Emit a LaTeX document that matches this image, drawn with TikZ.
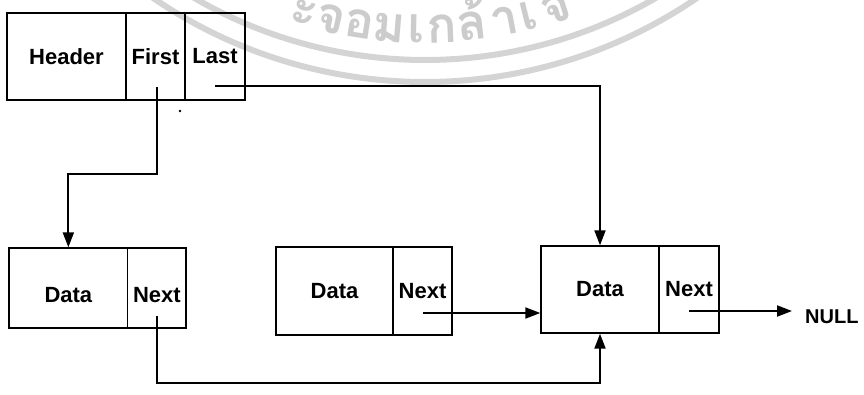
\documentclass[tikz,border=0pt]{standalone}
\usepackage{fontspec}
\setmainfont{Liberation Sans}
\newfontfamily\thaifont[Script=Thai]{Loma}
\usetikzlibrary{arrows.meta,calc}
\begin{document}
\begin{tikzpicture}[x=1pt,y=-1pt,
  cell/.style={draw, line width=1.4pt, inner sep=0pt, font=\fontsize{22}{26}\selectfont\bfseries},
  conn/.style={line width=2pt},
  arr/.style={conn, -{Triangle[length=15pt,width=11pt]}},
  wmring/.style={draw=black!17, line width=6pt},
  wmtext/.style={text=black!20, font=\thaifont\bfseries\fontsize{50}{58}\selectfont, anchor=base, inner sep=0pt}]
\useasboundingbox (0,0) rectangle (864,394);
% watermark
\begin{scope}
  \clip (0,0) rectangle (864,394);
  \coordinate (wc) at (425,-400);
  \draw[wmring] ($(wc)+(50:460)$) arc[start angle=50,end angle=130,radius=460];
  \draw[wmring] ($(wc)+(50:482)$) arc[start angle=50,end angle=130,radius=482];
  \foreach \a/\c in {106.39/ะ,102.65/จ,98.83/อ,94.79/ม,91.16/เ,87.67/ก,83.65/ล้,79.33/า,76.02/เ,72.26/จ}
    \node[wmtext, rotate=90-\a] at ($(wc)+(\a:443)$) {\c};
\end{scope}
% header
\node[cell, minimum width=119pt, minimum height=87pt] (hdr) at (66.5,56.5) {Header};
\node[cell, minimum width=59pt, minimum height=87pt] (first) at (155.5,56.5) {First};
\node[cell, minimum width=60pt, minimum height=87pt] (last) at (215,56.5) {Last};
% node 1
\node[cell, minimum width=118.7pt, minimum height=80pt] (d1) at (68.35,288) {\raisebox{-14.4pt}[0pt][0pt]{Data}};
\node[cell, minimum width=58.3pt, minimum height=80pt] (n1) at (156.85,288) {\raisebox{-14pt}[0pt][0pt]{Next}};
% node 2
\node[cell, minimum width=117pt, minimum height=88pt] (d2) at (334.5,291) {Data};
\node[cell, minimum width=59pt, minimum height=88pt] (n2) at (422.5,291) {Next};
% node 3
\node[cell, minimum width=118pt, minimum height=87pt] (d3) at (600,289.5) {Data};
\node[cell, minimum width=60pt, minimum height=87pt] (n3) at (689,289.5) {Next};
\node[anchor=west, inner sep=0pt, font=\fontsize{20}{24}\selectfont\bfseries] (null) at (805,317) {NULL};
% pointer origins
\coordinate (fp) at (157,87);
\coordinate (lp) at (215,86);
\coordinate (n1p) at (157,316);
\coordinate (n2p) at (423,313);
\coordinate (n3p) at (689,311);
% connectors
\draw[arr] (fp) -- ++(0,87) -| (d1.north);
\draw[arr] (lp) -| (d3.north);
\draw[arr] (n1p) -- ++(0,67) -| (d3.south);
\draw[arr] (n2p) -- (n2p -| d3.west);
\draw[arr] (n3p) -- ($(n3p -| null.west)+(-13,0)$);
\fill (180,111) circle (1.3pt);
\end{tikzpicture}
\end{document}
